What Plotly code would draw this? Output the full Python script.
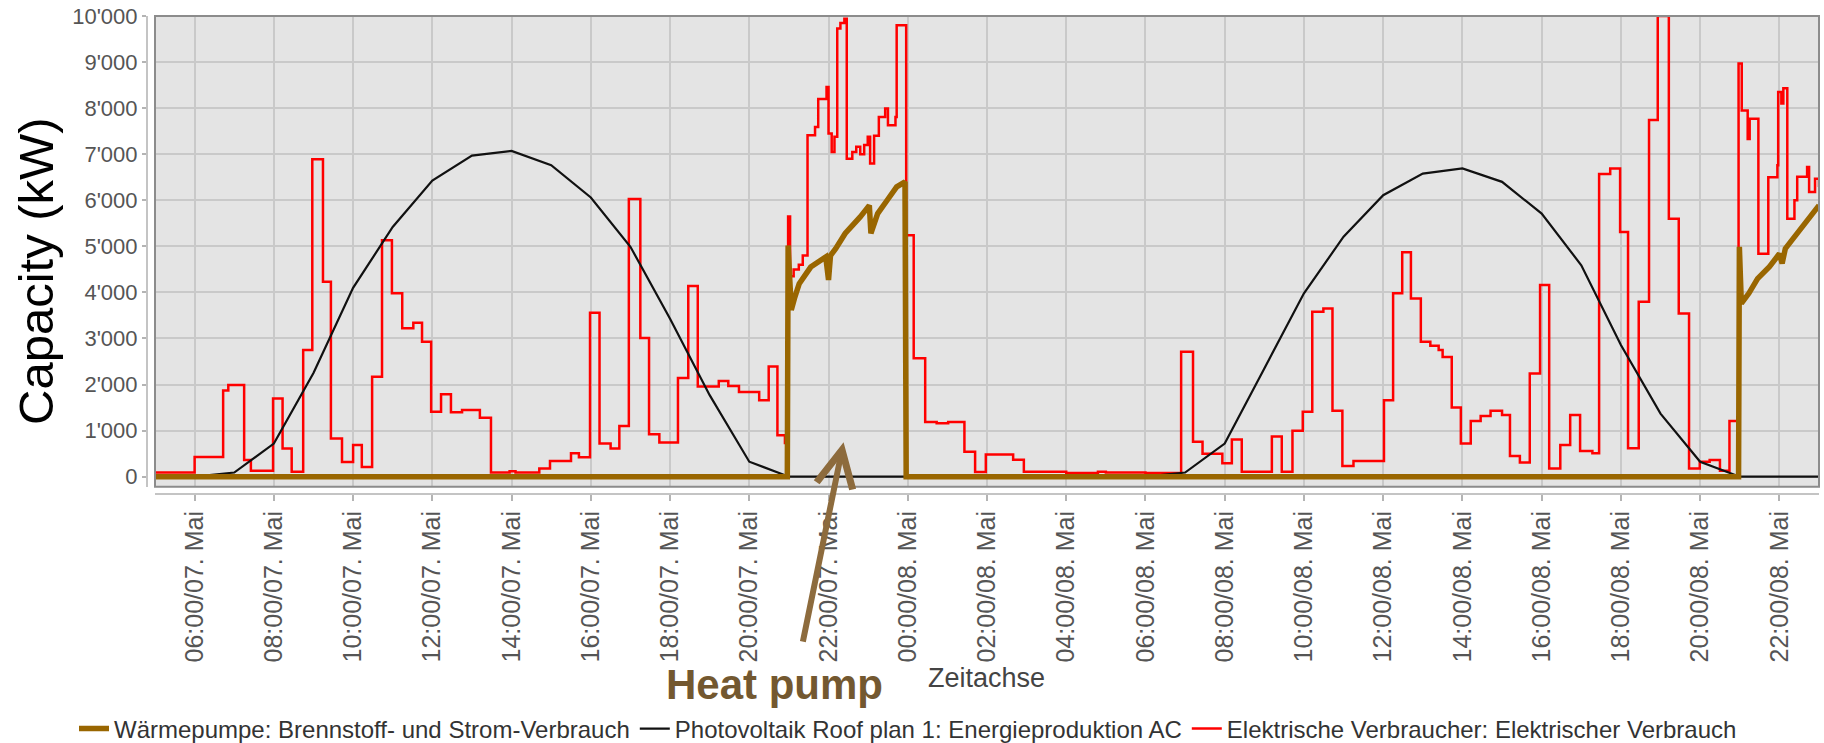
import plotly.graph_objects as go

# Hours counted from 00:00 on 7 May
# Electrical consumers (step values, each holds until the next time stamp)
load_hours = [
    5.0, 6.0, 6.72, 6.85, 7.25, 7.42, 7.98, 8.22, 8.45, 8.74, 8.97, 9.24, 9.44, 9.72,
    10.0, 10.22, 10.48, 10.73, 10.98, 11.24, 11.52, 11.74, 11.97, 12.22, 12.47, 12.75,
    13.2, 13.48, 13.95, 14.1, 14.7, 14.97, 15.5, 15.7, 15.98, 16.22, 16.5, 16.72, 16.96,
    17.25, 17.47, 17.73, 18.2, 18.46, 18.7, 19.23, 19.47, 19.74, 20.25, 20.49, 20.71,
    20.9, 20.98, 21.03, 21.12, 21.25, 21.35, 21.47, 21.66, 21.74, 21.95, 22.0, 22.08,
    22.15, 22.22, 22.3, 22.4, 22.46, 22.6, 22.7, 22.8, 22.9, 22.99, 23.05, 23.15, 23.27,
    23.43, 23.5, 23.69, 23.72, 23.96, 24.15, 24.44, 24.73, 25.02, 25.43, 25.7, 25.97,
    26.66, 26.93, 28.0, 28.8, 29.0, 30.0, 30.9, 31.2, 31.44, 31.94, 32.18, 32.43, 33.19,
    33.44, 33.71, 33.97, 34.21, 34.49, 34.72, 34.97, 35.25, 36.02, 36.25, 36.48, 36.7,
    36.95, 37.19, 37.4, 37.5, 37.73, 37.96, 38.21, 38.46, 38.71, 39.0, 39.2, 39.45,
    39.7, 39.96, 40.19, 40.47, 40.72, 40.97, 41.28, 41.45, 41.73, 41.98, 42.18, 42.45,
    42.71, 42.93, 43.21, 43.46, 43.72, 43.99, 44.24, 44.5, 44.74, 44.97, 45.05, 45.2,
    45.25, 45.47, 45.72, 45.95, 45.97, 46.05, 46.1, 46.2, 46.38, 46.45, 46.7, 46.75,
    46.9, 47.0,
]
load_kw = [
    90, 430, 1870, 1990, 360, 130, 1700, 610, 110, 2750, 6890, 4230, 830, 320,
    690, 210, 2170, 5130, 3980, 3220, 3340, 2930, 1410, 1790, 1400, 1450,
    1280, 90, 120, 90, 180, 340, 510, 420, 3560, 720, 610, 1100, 6030,
    3010, 920, 740, 2140, 4140, 1960, 2080, 1970, 1840, 1660, 2390, 900,
    730, 5650, 4350, 4500, 4600, 4800, 7410, 7590, 8200, 8460, 7450, 7050,
    7380, 9730, 9850, 9940, 6900, 7050, 7160, 7000, 7200, 7380, 6800, 7400, 7810,
    7990, 7630, 7810, 9800, 5240, 2570, 1190, 1160, 1190, 540, 100, 480,
    370, 110, 80, 110, 90, 80, 2710, 760, 500, 290, 810, 108, 870,
    108, 1000, 1410, 3580, 3650, 1430, 230, 340, 1660, 3980, 4870, 3870,
    2930, 2840, 2750, 2600, 1500, 720, 1210, 1320, 1430, 1340, 450, 310,
    2240, 4160, 180, 690, 1340, 560, 510, 6570, 6690, 5310, 615, 3800,
    7740, 10000, 5600, 3540, 180, 325, 360, 130, 1210, 8970, 7950, 7330,
    7770, 4840, 6500, 6760, 8350, 8100, 8430, 5600, 6000, 6510, 6720, 6180,
    6470, 6290,
]

# Photovoltaik AC production (hourly values)
pv_hours = list(range(5, 48))
pv_kw = [
    0, 0, 90, 720, 2250, 4100, 5420, 6430, 6970, 7070, 6760, 6060, 4990, 3430, 1770, 325,
    0, 0, 0, 0, 0, 0, 0, 0, 0, 0,
    90, 720, 2350, 3980, 5210, 6110, 6580, 6690, 6400, 5710, 4590, 2860, 1370, 325,
    0, 0, 0,
]

# Heat pump fuel and electricity consumption
hp_hours = [
    5.0, 20.96, 20.98, 21.06, 21.15, 21.26, 21.55, 21.93, 22.0, 22.05, 22.18, 22.42,
    22.8, 23.03, 23.07, 23.24, 23.48, 23.72, 23.93, 23.96,
    44.97, 44.99, 45.04, 45.23, 45.45, 45.75, 46.0, 46.07, 46.15, 46.45, 46.75, 47.0,
]
hp_kw = [
    0, 0, 5020, 3620, 3900, 4190, 4550, 4770, 4270, 4800, 4950, 5280,
    5640, 5890, 5280, 5710, 6000, 6290, 6400, 0,
    0, 4990, 3760, 3980, 4300, 4560, 4840, 4630, 4950, 5280, 5570, 5890,
]

tick_hours = [6, 8, 10, 12, 14, 16, 18, 20, 22, 24, 26, 28, 30, 32, 34, 36, 38, 40, 42, 44, 46]
tick_labels = [
    "06:00/07. Mai", "08:00/07. Mai", "10:00/07. Mai", "12:00/07. Mai", "14:00/07. Mai",
    "16:00/07. Mai", "18:00/07. Mai", "20:00/07. Mai", "22:00/07. Mai", "00:00/08. Mai",
    "02:00/08. Mai", "04:00/08. Mai", "06:00/08. Mai", "08:00/08. Mai", "10:00/08. Mai",
    "12:00/08. Mai", "14:00/08. Mai", "16:00/08. Mai", "18:00/08. Mai", "20:00/08. Mai",
    "22:00/08. Mai",
]
y_ticks = [0, 1000, 2000, 3000, 4000, 5000, 6000, 7000, 8000, 9000, 10000]
y_labels = ["0", "1'000", "2'000", "3'000", "4'000", "5'000", "6'000", "7'000", "8'000", "9'000", "10'000"]

FONT = "Liberation Sans, Arial, sans-serif"
W, H = 1824, 743
ML, MR, MT, MB = 147, 5, 16, 249
PW, PH = W - ML - MR, H - MT - MB


def px_x(p):
    return (p - ML) / PW


def px_y(p):
    return (H - MB - p) / PH


fig = go.Figure()
fig.add_trace(go.Scatter(
    x=load_hours, y=load_kw, mode="lines", line=dict(color="#ff0000", width=2.5, shape="hv"),
    name="Elektrische Verbraucher: Elektrischer Verbrauch", legendrank=3,
))
fig.add_trace(go.Scatter(
    x=pv_hours, y=pv_kw, mode="lines", line=dict(color="#111111", width=2.2),
    name="Photovoltaik Roof plan 1: Energieproduktion AC", legendrank=2,
))
fig.add_trace(go.Scatter(
    x=hp_hours, y=hp_kw, mode="lines", line=dict(color="#996600", width=5.5),
    name="Wärmepumpe: Brennstoff- und Strom-Verbrauch", legendrank=1,
))

fig.update_layout(
    width=W, height=H,
    margin=dict(l=ML, r=MR, t=MT, b=MB, autoexpand=False),
    paper_bgcolor="white",
    plot_bgcolor="#e4e4e4",
    font=dict(family=FONT, color="#555555"),
    showlegend=True,
    legend=dict(
        orientation="h", x=px_x(908), xanchor="center", y=px_y(729), yanchor="middle",
        font=dict(size=24, color="#333333"), itemwidth=30, bgcolor="rgba(0,0,0,0)",
        traceorder="normal",
    ),
    xaxis=dict(
        domain=[8 / PW, 1], anchor="free", position=0, automargin=False,
        range=[5, 47], tickvals=tick_hours, ticktext=tick_labels, tickangle=-90,
        tickfont=dict(size=25, color="#555555"),
        showgrid=True, gridcolor="#c9c9c9", gridwidth=1.5, zeroline=False,
        showline=True, linecolor="#c4c4c4", linewidth=2,
        ticks="outside", ticklen=6, tickwidth=1.5, tickcolor="#b4b4b4",
    ),
    yaxis=dict(
        domain=[7.3 / PH, 1], anchor="free", position=0, automargin=False,
        range=[-217, 10000], tickvals=y_ticks, ticktext=y_labels,
        tickfont=dict(size=22, color="#555555"),
        showgrid=True, gridcolor="#c9c9c9", gridwidth=1.5, zeroline=False,
        showline=True, linecolor="#c4c4c4", linewidth=2,
        ticks="outside", ticklen=4, tickwidth=1.5, tickcolor="#b4b4b4",
    ),
    shapes=[dict(
        type="rect", xref="x domain", yref="y domain", x0=0, x1=1, y0=0, y1=1,
        line=dict(color="#8c8c8c", width=2), layer="above",
    )],
    annotations=[
        dict(text="Capacity (kW)", xref="paper", yref="paper", x=px_x(36), y=px_y(271),
             xanchor="center", yanchor="middle", textangle=-90, showarrow=False,
             font=dict(size=49, color="#000000", family=FONT)),
        dict(text="Zeitachse", xref="paper", yref="paper", x=px_x(986), y=px_y(678),
             xanchor="center", yanchor="middle", showarrow=False,
             font=dict(size=27, color="#444444", family=FONT)),
        dict(text="<b>Heat pump</b>", xref="paper", yref="paper", x=px_x(774), y=px_y(684),
             xanchor="center", yanchor="middle", showarrow=False,
             font=dict(size=42, color="#735830", family=FONT)),
        dict(text="", x=22.38, y=750, xref="x", yref="y", ax=-41, ay=201,
             showarrow=True, arrowhead=5, arrowsize=1.2, arrowwidth=6, arrowcolor="#8d6b3d"),
    ],
)

fig.write_html("out.html")
